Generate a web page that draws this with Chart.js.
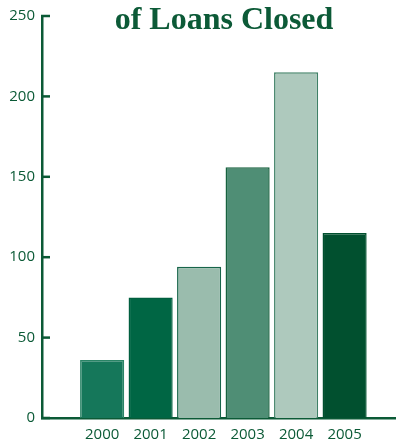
<!DOCTYPE html>
<html>
<head>
<meta charset="utf-8">
<script src="https://cdn.jsdelivr.net/npm/chart.js@4/dist/chart.umd.min.js"></script>
<style>
  html, body { margin: 0; padding: 0; background: #ffffff; overflow: hidden; }
  #wrap { position: relative; width: 396px; height: 440px; }
  #title {
    position: absolute; left: 52px; top: 2px; width: 344px;
    text-align: center; font: bold 32px/32px 'Liberation Serif', serif;
    color: #0c5a37; white-space: nowrap; z-index: 2;
  }
  canvas { position: absolute; left: 0; top: 0; }
</style>
</head>
<body>
<div id="wrap">
  <div id="title">of Loans Closed</div>
  <canvas id="c" width="396" height="440"></canvas>
</div>
<script>
const titleText = 'of Loans Closed';
const years = ['2000', '2001', '2002', '2003', '2004', '2005'];
const loans = [36, 75, 94, 156, 215, 115];
const yTicks = [0, 50, 100, 150, 200, 250];

const fillColors = ['#15775a', '#006644', '#9abcad', '#4f8e75', '#aec9bd', '#01502f'];
const edgeColors = ['#2a8466', '#005f3f', '#17654a', '#17623f', '#3f8066', '#01502f'];
const ink = '#0b5a36';

const inwardTicks = {
  id: 'inwardTicks',
  afterDraw(chart) {
    const y = chart.scales.y;
    const ctx = chart.ctx;
    ctx.save();
    ctx.strokeStyle = ink;
    ctx.lineWidth = 2.5;
    yTicks.forEach(v => {
      const py = y.getPixelForValue(v);
      ctx.beginPath();
      ctx.moveTo(chart.chartArea.left - 1, py);
      ctx.lineTo(chart.chartArea.left + 8, py);
      ctx.stroke();
    });
    ctx.restore();
  }
};

new Chart(document.getElementById('c'), {
  type: 'bar',
  data: {
    datasets: [{
      data: loans.map((v, i) => ({ x: i, y: v })),
      backgroundColor: fillColors,
      borderColor: edgeColors,
      borderWidth: 1.5,
      barPercentage: 0.91,
      categoryPercentage: 1.0
    }]
  },
  options: {
    responsive: false,
    animation: false,
    layout: { padding: { top: 14, right: 0, bottom: 0, left: 0 } },
    plugins: { legend: { display: false }, tooltip: { enabled: false }, title: { display: false } },
    scales: {
      x: {
        type: 'linear',
        offset: false,
        min: -1.24,
        max: 6.06,
        afterBuildTicks: s => { s.ticks = years.map((_, i) => ({ value: i })); },
        afterFit: s => { s.height = 22; },
        grid: { display: false, drawTicks: false, tickLength: 0 },
        border: { display: true, color: ink, width: 2.5 },
        ticks: {
          callback: v => years[v],
          color: ink,
          font: { family: "'Open Sans', sans-serif", size: 15 },
          padding: 8,
          maxRotation: 0,
          autoSkip: false
        }
      },
      y: {
        min: 0,
        max: 250,
        afterBuildTicks: s => { s.ticks = yTicks.map(v => ({ value: v })); },
        afterFit: s => { s.width = 42; },
        grid: { display: false, drawTicks: false, tickLength: 0 },
        border: { display: true, color: ink, width: 2.5 },
        ticks: {
          color: ink,
          font: { family: "'Open Sans', sans-serif", size: 15 },
          padding: 7
        }
      }
    }
  },
  plugins: [inwardTicks]
});
</script>
</body>
</html>
